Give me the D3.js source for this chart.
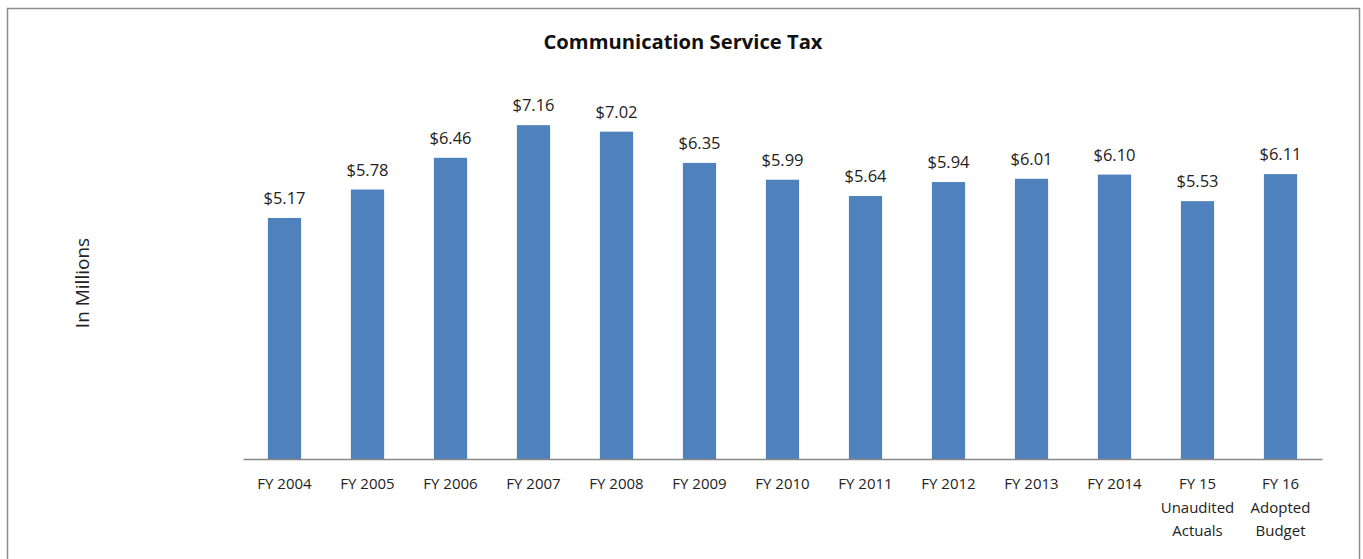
<!DOCTYPE html>
<html><head><meta charset="utf-8">
<script src="https://cdn.jsdelivr.net/npm/d3@7"></script>
<style>body{margin:0;background:#fff}</style>
</head><body>
<svg id="c" width="1363" height="559"></svg>
<script>
const categories = ["FY 2004","FY 2005","FY 2006","FY 2007","FY 2008","FY 2009","FY 2010","FY 2011","FY 2012","FY 2013","FY 2014","FY 15\nUnaudited\nActuals","FY 16\nAdopted\nBudget"];
const values = [5.17,5.78,6.46,7.16,7.02,6.35,5.99,5.64,5.94,6.01,6.10,5.53,6.11];
const valueLabels = ["$5.17","$5.78","$6.46","$7.16","$7.02","$6.35","$5.99","$5.64","$5.94","$6.01","$6.10","$5.53","$6.11"];
const title = "Communication Service Tax";
const yTitle = "In Millions";

const svg = d3.select("#c");
const font = "'Open Sans', 'Noto Sans', sans-serif";
svg.append("rect").attr("x",7.5).attr("y",8.5).attr("width",1352).attr("height",560)
  .attr("fill","#fff").attr("stroke","#8c8c8c").attr("stroke-width",1.5);

const x = d3.scaleBand().domain(categories).range([243,1322]).paddingInner(0.6).paddingOuter(0.3);
const y = d3.scaleLinear().domain([0,8]).range([459,86]);

svg.append("text").attr("x",683).attr("y",49).attr("text-anchor","middle")
  .attr("font-family",font).attr("font-weight","bold").attr("font-size",19.5).attr("fill","#111")
  .attr("textLength",279).attr("lengthAdjust","spacingAndGlyphs").text(title);

svg.append("text").attr("transform","translate(89,283) rotate(-90)").attr("text-anchor","middle")
  .attr("font-family",font).attr("font-size",19).attr("fill","#222").text(yTitle);

svg.selectAll("rect.bar").data(values).join("rect").attr("class","bar")
  .attr("x",(d,i)=>x(categories[i])).attr("width",x.bandwidth())
  .attr("y",d=>y(d)).attr("height",d=>y(0)-y(d)).attr("fill","#4F81BD");

svg.selectAll("text.vl").data(values).join("text").attr("class","vl")
  .attr("x",(d,i)=>x(categories[i])+x.bandwidth()/2).attr("y",d=>y(d)-14)
  .attr("text-anchor","middle").attr("font-family",font).attr("font-size",16.5).attr("fill","#222")
  .text((d,i)=>valueLabels[i]);

const ax = svg.append("g").attr("transform","translate(0,459)")
  .call(d3.axisBottom(x).tickSize(0).tickFormat(""));
ax.select(".domain").attr("stroke","#888").attr("stroke-width",1.3);

const lab = svg.append("g");
categories.forEach(c=>{
  const lines = c.split("\n");
  const t = lab.append("text").attr("text-anchor","middle").attr("font-family",font)
    .attr("font-size",15).attr("fill","#222");
  lines.forEach((l,j)=>t.append("tspan").attr("x",x(c)+x.bandwidth()/2).attr("y",489+j*23.5).text(l));
});
</script>
</body></html>
